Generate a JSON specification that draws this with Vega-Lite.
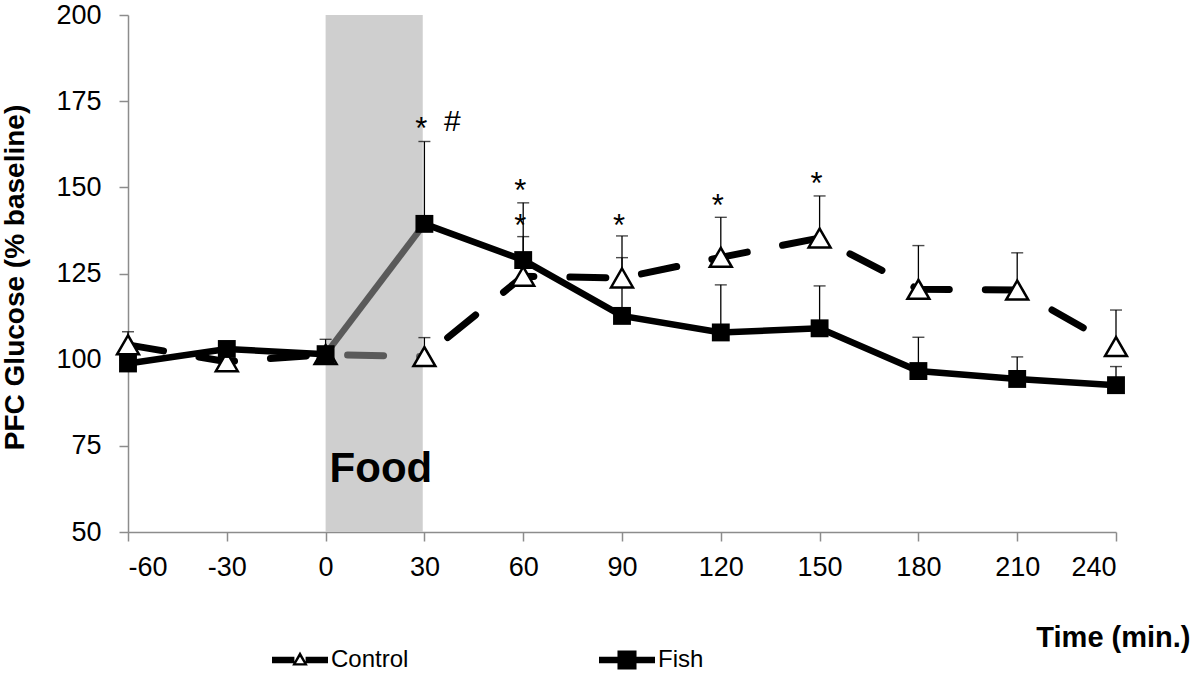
{
  "$schema": "https://vega.github.io/schema/vega-lite/v6.json",
  "width": 988,
  "height": 517,
  "autosize": {"type": "none"},
  "padding": {"left": 128, "top": 15, "right": 84, "bottom": 141},
  "background": "white",
  "datasets": {
    "pts": [
      {"series": "Control", "time": -60, "value": 104.3, "upper": 108.1},
      {"series": "Control", "time": -30, "value": 99.4, "upper": null},
      {"series": "Control", "time": 0, "value": 101.5, "upper": 105.9},
      {"series": "Control", "time": 30, "value": 100.9, "upper": 106.4},
      {"series": "Control", "time": 60, "value": 124.2, "upper": 145.5},
      {"series": "Control", "time": 90, "value": 123.7, "upper": 135.9},
      {"series": "Control", "time": 120, "value": 129.7, "upper": 141.3},
      {"series": "Control", "time": 150, "value": 135.3, "upper": 147.5},
      {"series": "Control", "time": 180, "value": 120.4, "upper": 133.1},
      {"series": "Control", "time": 210, "value": 120.2, "upper": 131.0},
      {"series": "Control", "time": 240, "value": 103.8, "upper": 114.4},
      {"series": "Fish", "time": -60, "value": 98.9, "upper": null},
      {"series": "Fish", "time": -30, "value": 103.1, "upper": null},
      {"series": "Fish", "time": 0, "value": 101.6, "upper": null},
      {"series": "Fish", "time": 30, "value": 139.4, "upper": 163.3},
      {"series": "Fish", "time": 60, "value": 128.9, "upper": 135.7},
      {"series": "Fish", "time": 90, "value": 112.7, "upper": 129.6},
      {"series": "Fish", "time": 120, "value": 107.9, "upper": 121.7},
      {"series": "Fish", "time": 150, "value": 109.1, "upper": 121.4},
      {"series": "Fish", "time": 180, "value": 96.7, "upper": 106.5},
      {"series": "Fish", "time": 210, "value": 94.4, "upper": 100.8},
      {"series": "Fish", "time": 240, "value": 92.6, "upper": 98.0}
    ],
    "stars": [
      {"time": 30, "value": 163.9, "label": "*"},
      {"time": 60, "value": 146.0, "label": "*"},
      {"time": 60, "value": 135.9, "label": "*"},
      {"time": 90, "value": 135.9, "label": "*"},
      {"time": 120, "value": 141.7, "label": "*"},
      {"time": 150, "value": 148.2, "label": "*"}
    ],
    "hash": [
      {"time": 38.5, "value": 166.2, "label": "#"}
    ],
    "food": [{"start": 0, "end": 29.5, "low": 50, "high": 200, "label": "Food", "mid": 16.8, "pos": 64.5}]
  },
  "config": {
    "view": {"stroke": null},
    "font": "Liberation Sans",
    "axis": {
      "grid": false,
      "domainColor": "#8c8c8c",
      "tickColor": "#8c8c8c",
      "domainWidth": 1.5,
      "tickWidth": 1.5,
      "tickSize": 9,
      "labelColor": "black",
      "labelFontSize": 27,
      "labelFont": "Liberation Sans",
      "titleFont": "Liberation Sans",
      "titleFontWeight": "bold",
      "titleColor": "black",
      "labelExpr": "'' + datum.value"
    },
    "axisY": {
      "labelPadding": 18,
      "titleFontSize": 28,
      "titleX": -113,
      "titleY": 262,
      "titleAngle": -90,
      "titleBaseline": "middle",
      "titleAlign": "center"
    },
    "axisX": {
      "labelPadding": 13,
      "titleFontSize": 29,
      "titleX": 1062,
      "titleY": 114,
      "titleAlign": "right",
      "titleBaseline": "alphabetic",
      "titleAnchor": null
    }
  },
  "layer": [
    {
      "data": {"name": "food"},
      "mark": {"type": "rect", "color": "#cfcfcf"},
      "encoding": {
        "x": {"field": "start", "type": "quantitative", "scale": {"domain": [-60, 240], "nice": false, "zero": false}, "axis": {"values": [-60, -30, 0, 30, 60, 90, 120, 150, 180, 210, 240]}, "title": "Time (min.)"},
        "x2": {"field": "end"},
        "y": {"field": "low", "type": "quantitative", "scale": {"domain": [50, 200], "nice": false, "zero": false}, "axis": {"values": [50, 75, 100, 125, 150, 175, 200]}, "title": "PFC Glucose (% baseline)"},
        "y2": {"field": "high"}
      }
    },
    {
      "data": {"name": "food"},
      "mark": {"type": "text", "fontSize": 42, "fontWeight": "bold", "font": "Liberation Sans", "align": "center", "baseline": "alphabetic", "color": "black"},
      "encoding": {
        "x": {"field": "mid", "type": "quantitative"},
        "y": {"field": "pos", "type": "quantitative"},
        "text": {"field": "label"}
      }
    },
    {
      "data": {"name": "pts"},
      "transform": [{"filter": "datum.upper != null"}],
      "mark": {"type": "rule", "color": "black", "strokeWidth": 1.3},
      "encoding": {
        "x": {"field": "time", "type": "quantitative"},
        "y": {"field": "value", "type": "quantitative"},
        "y2": {"field": "upper"}
      }
    },
    {
      "data": {"name": "pts"},
      "transform": [{"filter": "datum.upper != null"}],
      "mark": {"type": "tick", "color": "black", "orient": "horizontal", "size": 12, "thickness": 1.4},
      "encoding": {
        "x": {"field": "time", "type": "quantitative"},
        "y": {"field": "upper", "type": "quantitative"}
      }
    },
    {
      "data": {"name": "pts"},
      "transform": [{"filter": "datum.series == 'Control' && datum.time <= 0"}],
      "mark": {"type": "line", "color": "black", "strokeWidth": 7, "strokeDash": [36, 36], "strokeCap": "round"},
      "encoding": {"x": {"field": "time", "type": "quantitative"}, "y": {"field": "value", "type": "quantitative"}}
    },
    {
      "data": {"name": "pts"},
      "transform": [{"filter": "datum.series == 'Control' && datum.time >= 0 && datum.time <= 30"}],
      "mark": {"type": "line", "color": "#5a5a5a", "strokeWidth": 7, "strokeDash": [36, 36], "strokeDashOffset": -22, "strokeCap": "round"},
      "encoding": {"x": {"field": "time", "type": "quantitative"}, "y": {"field": "value", "type": "quantitative"}}
    },
    {
      "data": {"name": "pts"},
      "transform": [{"filter": "datum.series == 'Control' && datum.time >= 30"}],
      "mark": {"type": "line", "color": "black", "strokeWidth": 7, "strokeDash": [36, 36], "strokeDashOffset": -30, "strokeCap": "round"},
      "encoding": {"x": {"field": "time", "type": "quantitative"}, "y": {"field": "value", "type": "quantitative"}}
    },
    {
      "data": {"name": "pts"},
      "transform": [{"filter": "datum.series == 'Fish' && datum.time <= 0"}],
      "mark": {"type": "line", "color": "black", "strokeWidth": 6.5},
      "encoding": {"x": {"field": "time", "type": "quantitative"}, "y": {"field": "value", "type": "quantitative"}}
    },
    {
      "data": {"name": "pts"},
      "transform": [{"filter": "datum.series == 'Fish' && datum.time >= 0 && datum.time <= 30"}],
      "mark": {"type": "line", "color": "#5a5a5a", "strokeWidth": 6.5},
      "encoding": {"x": {"field": "time", "type": "quantitative"}, "y": {"field": "value", "type": "quantitative"}}
    },
    {
      "data": {"name": "pts"},
      "transform": [{"filter": "datum.series == 'Fish' && datum.time >= 30"}],
      "mark": {"type": "line", "color": "black", "strokeWidth": 6.5},
      "encoding": {"x": {"field": "time", "type": "quantitative"}, "y": {"field": "value", "type": "quantitative"}}
    },
    {
      "data": {"name": "pts"},
      "transform": [{"filter": "datum.series == 'Control'"}],
      "mark": {"type": "point", "shape": "triangle-up", "filled": true, "fill": "white", "stroke": "black", "strokeWidth": 2.5, "size": 480, "opacity": 1},
      "encoding": {"x": {"field": "time", "type": "quantitative"}, "y": {"field": "value", "type": "quantitative"}}
    },
    {
      "data": {"name": "pts"},
      "transform": [{"filter": "datum.series == 'Fish'"}],
      "mark": {"type": "point", "shape": "square", "filled": true, "color": "black", "size": 320, "opacity": 1},
      "encoding": {"x": {"field": "time", "type": "quantitative"}, "y": {"field": "value", "type": "quantitative"}}
    },
    {
      "data": {"name": "pts"},
      "mark": {"type": "point", "filled": true, "color": "black", "opacity": 0, "size": 3136},
      "encoding": {
        "x": {"field": "time", "type": "quantitative"},
        "y": {"field": "value", "type": "quantitative"},
        "shape": {
          "field": "series",
          "type": "nominal",
          "scale": {
            "domain": ["Control", "Fish"],
            "range": [
              "M-1,-0.12H-0.2V0.12H-1Z M0.2,-0.12H1V0.12H0.2Z M0,-0.3L0.28,0.2L-0.28,0.2Z M0,-0.12L-0.14,0.12L0.14,0.12Z",
              "M-1,-0.12H1V0.12H-1Z M-0.34,-0.34H0.34V0.34H-0.34Z"
            ]
          },
          "legend": {
            "title": null,
            "orient": "none",
            "legendX": 144,
            "legendY": 617,
            "direction": "horizontal",
            "columns": 2,
            "columnPadding": 190,
            "padding": 0,
            "labelFontSize": 24,
            "labelFont": "Liberation Sans",
            "labelColor": "black",
            "labelOffset": 3,
            "symbolSize": 3136,
            "symbolFillColor": "black",
            "symbolStrokeWidth": 0,
            "symbolOpacity": 1,
            "encode": {"symbols": {"update": {"opacity": {"value": 1}, "fillOpacity": {"value": 1}, "fill": {"value": "black"}}}}
          }
        }
      }
    },
    {
      "data": {"name": "stars"},
      "mark": {"type": "text", "fontSize": 31, "font": "Liberation Sans", "align": "center", "baseline": "alphabetic", "dx": -3, "color": "black"},
      "encoding": {
        "x": {"field": "time", "type": "quantitative"},
        "y": {"field": "value", "type": "quantitative"},
        "text": {"field": "label"}
      }
    },
    {
      "data": {"name": "hash"},
      "mark": {"type": "text", "fontSize": 30, "font": "Liberation Sans", "align": "center", "baseline": "alphabetic", "color": "black"},
      "encoding": {
        "x": {"field": "time", "type": "quantitative"},
        "y": {"field": "value", "type": "quantitative"},
        "text": {"field": "label"}
      }
    }
  ]
}
